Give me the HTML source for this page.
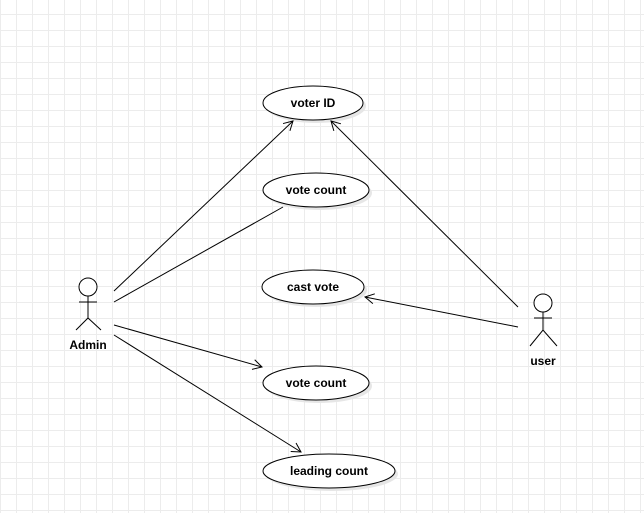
<!DOCTYPE html>
<html><head><meta charset="utf-8"><style>
html,body{margin:0;padding:0;background:#fff;}
body{width:644px;height:513px;overflow:hidden;
background-image:linear-gradient(#ececec 1px,transparent 1px),linear-gradient(90deg,#ececec 1px,transparent 1px);
background-size:16px 16px;background-position:0 14px,0 0;}
svg{position:absolute;left:0;top:0;}
text{font-family:"Liberation Sans",sans-serif;font-size:12px;font-weight:bold;fill:#000;}
</style></head><body>
<svg width="644" height="513" viewBox="0 0 644 513">
<defs>
<marker id="a" markerWidth="12" markerHeight="12" refX="10" refY="6" orient="auto" markerUnits="userSpaceOnUse">
<path d="M1,1 L10,6 L1,11" fill="none" stroke="#000" stroke-width="1"/></marker>
</defs>
<g fill="#e6e6e6">
<ellipse cx="316" cy="106" rx="50" ry="17"/>
<ellipse cx="319" cy="193" rx="53" ry="17"/>
<ellipse cx="316" cy="290" rx="51" ry="17"/>
<ellipse cx="319" cy="386" rx="53" ry="17"/>
<ellipse cx="332" cy="474" rx="66" ry="17"/>
</g>
<g fill="#fff" stroke="#000" stroke-width="1">
<ellipse cx="313" cy="103" rx="50" ry="17"/>
<ellipse cx="316" cy="190" rx="53" ry="17"/>
<ellipse cx="313" cy="287" rx="51" ry="17"/>
<ellipse cx="316" cy="383" rx="53" ry="17"/>
<ellipse cx="329" cy="471" rx="66" ry="17"/>
</g>
<g text-anchor="middle">
<text x="313" y="107">voter ID</text>
<text x="316" y="194">vote count</text>
<text x="313" y="291">cast vote</text>
<text x="316" y="387">vote count</text>
<text x="329" y="475">leading count</text>
<text x="88" y="349">Admin</text>
<text x="543" y="365">user</text>
</g>
<g stroke="#000" stroke-width="1" fill="none">
<line x1="114" y1="291" x2="293" y2="121" marker-end="url(#a)"/>
<line x1="114" y1="302" x2="283" y2="207"/>
<line x1="114" y1="325" x2="262" y2="367" marker-end="url(#a)"/>
<line x1="114" y1="335" x2="301" y2="452" marker-end="url(#a)"/>
<line x1="518" y1="307" x2="331" y2="121" marker-end="url(#a)"/>
<line x1="518" y1="327" x2="365" y2="297" marker-end="url(#a)"/>
<circle cx="88" cy="287" r="9" fill="#fff"/>
<path d="M88,296V318M79,302H97M76,330L88,318L101,330"/>
<circle cx="543" cy="303" r="9" fill="#fff"/>
<path d="M543,312V330M534,318H552M530,346L543,330L557,346"/>
</g>
</svg>
</body></html>
